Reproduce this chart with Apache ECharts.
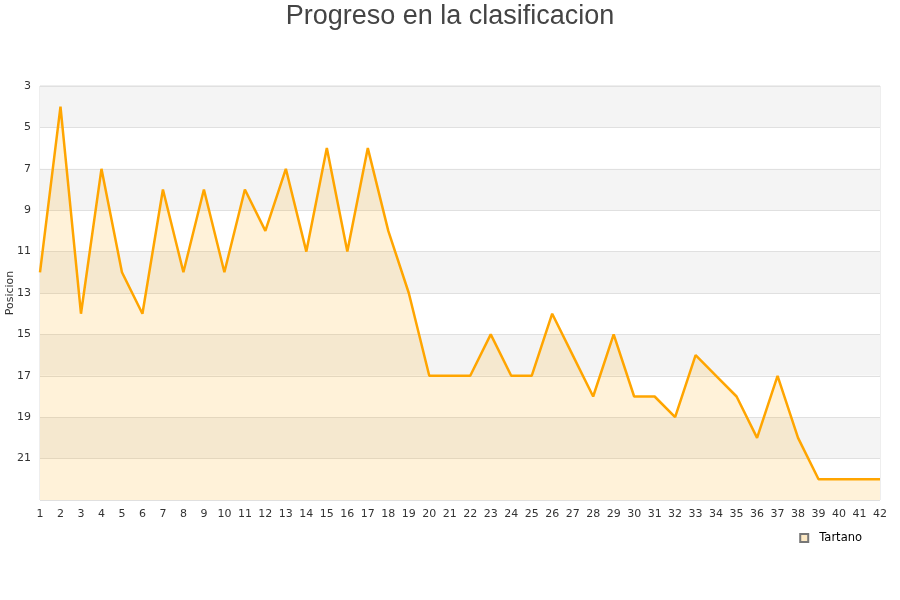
<!DOCTYPE html>
<html><head><meta charset="utf-8">
<script src="https://cdn.jsdelivr.net/npm/echarts@6/dist/echarts.min.js"></script>
<style>html,body{margin:0;padding:0;background:#fff}#c{width:900px;height:600px}</style>
</head><body><div id="c"></div>
<script>
const jornadas = ['1','2','3','4','5','6','7','8','9','10','11','12','13','14','15','16','17','18','19','20','21','22','23','24','25','26','27','28','29','30','31','32','33','34','35','36','37','38','39','40','41','42'];
const posicionTartano = [12,4,14,7,12,14,8,12,8,12,8,10,7,11,6,11,6,10,13,17,17,17,15,17,17,14,16,18,15,18,18,19,16,17,18,20,17,20,22,22,22,22];
const chart = echarts.init(document.getElementById('c'));
chart.setOption({
  animation:false,
  title:{text:'Progreso en la clasificacion',left:'center',top:-2,
    textStyle:{fontFamily:'Liberation Sans, Arial',fontSize:27,fontWeight:'normal',color:'#444'}},
  legend:{data:[{name:'Tartano',icon:'rect'}],right:33,top:527,itemWidth:8,itemHeight:8,itemGap:10,
    textStyle:{fontFamily:'DejaVu Sans',fontSize:11.5,color:'#000',padding:[0,0,0,6]}},
  grid:{left:40,right:20,top:86,bottom:100,outerBoundsMode:'none',containLabel:false,show:true,borderColor:'#ddd',borderWidth:1,backgroundColor:'transparent'},
  xAxis:{type:'category',data:jornadas,boundaryGap:false,
    axisLine:{show:false},axisTick:{show:false},
    axisLabel:{interval:0,margin:9,fontFamily:'DejaVu Sans',fontSize:11,color:'#333'},
    splitLine:{show:false}},
  yAxis:{type:'value',inverse:true,min:3,max:23,interval:2,name:'Posicion',nameLocation:'middle',nameGap:24,nameMoveOverlap:false,
    nameTextStyle:{fontFamily:'DejaVu Sans',fontSize:11,color:'#333'},
    axisLine:{show:false},axisTick:{show:false},
    axisLabel:{fontFamily:'DejaVu Sans',fontSize:11,color:'#333',margin:9,formatter:v=>v===23?'':String(v)},
    splitLine:{show:true,lineStyle:{color:'#e0e0e0'}},
    splitArea:{show:true,areaStyle:{color:['#f4f4f4','#ffffff']}}},
  series:[{name:'Tartano',type:'line',data:posicionTartano,symbol:'none',
    lineStyle:{color:'#ffa500',width:2.5},
    itemStyle:{color:'#fde9c4',borderColor:'#777',borderWidth:1},
    areaStyle:{origin:'end',color:'rgba(255,165,0,0.21)'}}]
});
</script></body></html>
